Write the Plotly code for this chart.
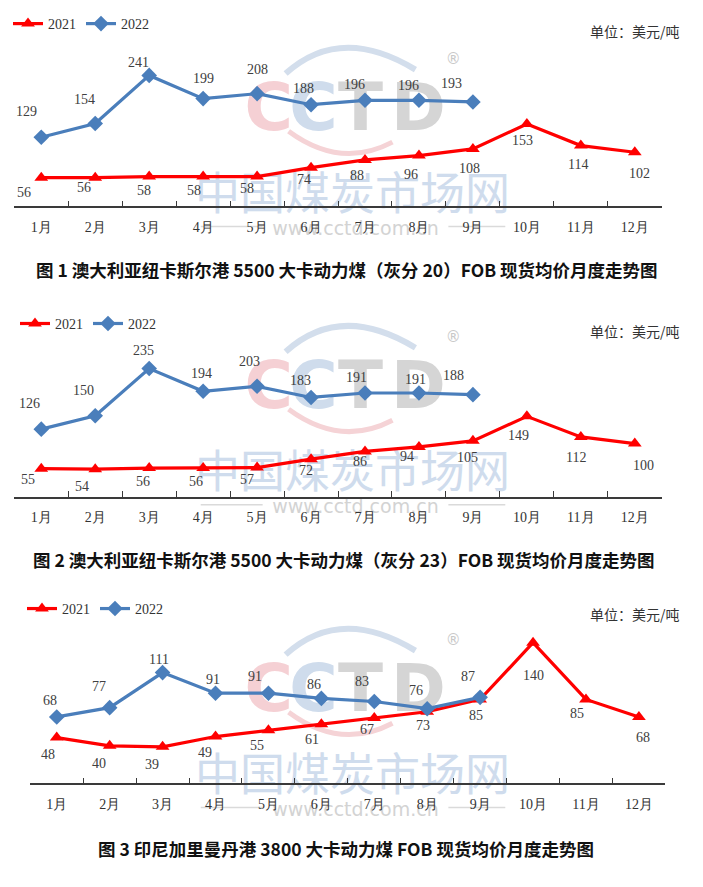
import plotly.graph_objects as go

W, H = 703, 887
# the page body adds an 8px margin around the figure; compensate for it
OX, OY = 8, 8

months = ["1月", "2月", "3月", "4月", "5月", "6月", "7月", "8月", "9月", "10月", "11月", "12月"]
months_2022 = months[:9]

c1_2021 = [56, 56, 58, 58, 58, 74, 88, 96, 108, 153, 114, 102]
c1_2022 = [129, 154, 241, 199, 208, 188, 196, 196, 193]
c2_2021 = [55, 54, 56, 56, 57, 72, 86, 94, 105, 149, 112, 100]
c2_2022 = [126, 150, 235, 194, 203, 183, 191, 191, 188]
c3_2021 = [48, 40, 39, 49, 55, 61, 67, 73, 85, 140, 85, 68]
c3_2022 = [68, 77, 111, 91, 91, 86, 83, 76, 87]

titles = [
    "图 1 澳大利亚纽卡斯尔港 5500 大卡动力煤（灰分 20）FOB 现货均价月度走势图",
    "图 2 澳大利亚纽卡斯尔港 5500 大卡动力煤（灰分 23）FOB 现货均价月度走势图",
    "图 3 印尼加里曼丹港 3800 大卡动力煤 FOB 现货均价月度走势图",
]
unit_text = "单位：美元/吨"

# label offsets (px) for data labels: (dx, dy up)
off1_2021 = [(-17, -15), (-11, -10), (-5, -14), (-9, -14), (-10, -12), (-7, -12), (-8, -16), (-8, -19), (-3, -20), (-4, -16), (-3, -19), (5, -21)]
off1_2022 = [(-15, 26), (-11, 24), (-11, 13), (0, 20), (0, 24), (-8, 16), (-11, 16), (-10, 15), (-21, 18)]
off2_2021 = [(-13, -11), (-13, -17), (-6, -13), (-7, -13), (-10, -12), (-5, -11), (-5, -10), (-12, -10), (-5, -17), (-8, -19), (-5, -21), (9, -22)]
off2_2022 = [(-12, 26), (-12, 25), (-6, 18), (-2, 18), (-8, 25), (-11, 17), (-9, 15), (-3, 13), (-19, 19)]
off3_2021 = [(-9, -17), (-11, -18), (-11, -18), (-11, -16), (-11, -15), (-9, -15), (-7, -12), (-4, -14), (-4, -16), (0, -33), (-9, -14), (4, -21)]
off3_2022 = [(-7, 16), (-11, 21), (-4, 13), (-3, 14), (-13, 17), (-7, 14), (-12, 20), (-11, 18), (-12, 21)]

RED = "#ff0000"
BLUE = "#4a7ebb"
SERIF = "Liberation Serif, Times New Roman, serif"
CJK = "Noto Sans CJK SC"


def pxx(x):
    return (x - OX) / W


def pyy(y):
    return 1 - (y - OY) / H


panels = [
    dict(xl=13.3, xr=661.7, yb=201.7, yt=37.0, ymin=4.0, ymax=300, legx=13, legy=18, unity=25, titlex=346, titley=265, wm=0),
    dict(xl=13.3, xr=661.7, yb=494.0, yt=328.5, ymin=4.6, ymax=300, legx=20, legy=320, unity=327, titlex=343, titley=557, wm=280),
    dict(xl=29.3, xr=665.3, yb=782.7, yt=620.2, ymin=3.5, ymax=160, legx=27, legy=607, unity=612, titlex=345, titley=848, wm=585),
]
series = [
    (c1_2021, c1_2022, off1_2021, off1_2022),
    (c2_2021, c2_2022, off2_2021, off2_2022),
    (c3_2021, c3_2022, off3_2021, off3_2022),
]

fig = go.Figure()
annotations = []
shapes = []

for i, (p, (s21, s22, o21, o22)) in enumerate(zip(panels, series)):
    n = "" if i == 0 else str(i + 1)
    xa, ya = "x" + n, "y" + n
    leg = "legend" + n
    fig.add_trace(go.Scatter(
        x=months, y=s21, name="2021", mode="lines+markers",
        line=dict(color=RED, width=3.2),
        marker=dict(symbol="triangle-up", size=12, color=RED),
        xaxis=xa, yaxis=ya, legend=leg, hoverinfo="skip"))
    fig.add_trace(go.Scatter(
        x=months_2022, y=s22, name="2022", mode="lines+markers",
        line=dict(color=BLUE, width=3.2),
        marker=dict(symbol="diamond", size=12, color=BLUE),
        xaxis=xa, yaxis=ya, legend=leg, hoverinfo="skip"))

    xkey = "xaxis" + n
    ykey = "yaxis" + n
    fig.update_layout({
        xkey: dict(
            domain=[pxx(p["xl"]), pxx(p["xr"])], anchor=ya,
            type="category", range=[-0.5, 11.5],
            showline=True, linecolor="#3a3a3a", linewidth=1.6,
            ticks="inside", ticklen=6, tickwidth=1.4, tickcolor="#3a3a3a",
            tickson="boundaries", showgrid=False, zeroline=False,
            tickfont=dict(family=SERIF, size=14, color="#333333"),
            ticklabelstandoff=7, fixedrange=True),
        ykey: dict(
            domain=[pyy(p["yb"]), pyy(p["yt"])], anchor=xa,
            range=[p["ymin"], p["ymax"]], visible=False,
            showgrid=False, zeroline=False, fixedrange=True),
        leg: dict(
            x=pxx(p["legx"] - 6), y=pyy(p["legy"]), xanchor="left", yanchor="middle",
            orientation="h", bgcolor="rgba(0,0,0,0)",
            font=dict(family=SERIF, size=14, color="#333333"),
            itemwidth=30, tracegroupgap=0, traceorder="normal"),
    })

    for m, v, (dx, dy) in zip(months, s21, o21):
        annotations.append(dict(x=m, y=v, xref=xa, yref=ya, text=str(v), showarrow=False,
                                xshift=dx, yshift=dy,
                                font=dict(family=SERIF, size=14, color="#404040")))
    for m, v, (dx, dy) in zip(months_2022, s22, o22):
        annotations.append(dict(x=m, y=v, xref=xa, yref=ya, text=str(v), showarrow=False,
                                xshift=dx, yshift=dy,
                                font=dict(family=SERIF, size=14, color="#404040")))

    annotations.append(dict(x=pxx(682), y=pyy(p["unity"]), xref="paper", yref="paper",
                            xanchor="right", yanchor="middle", showarrow=False, text=unit_text,
                            font=dict(family=CJK, size=14, color="#333333")))
    annotations.append(dict(x=pxx(p["titlex"]), y=pyy(p["titley"]), xref="paper", yref="paper",
                            xanchor="center", yanchor="middle", showarrow=False,
                            text="<b>" + titles[i] + "</b>",
                            font=dict(family=CJK, size=17.5, color="#111111")))

    d = p["wm"]

    def rect_label(cx, cy, w, h, text, size, color, family, bold=False):
        shapes.append(dict(
            type="rect", xref="paper", yref="paper", layer="below",
            x0=pxx(cx - w / 2), x1=pxx(cx + w / 2), y0=pyy(cy + h / 2), y1=pyy(cy - h / 2),
            line=dict(width=0), fillcolor="rgba(0,0,0,0)",
            label=dict(text=("<b>" + text + "</b>") if bold else text,
                       textposition="middle center",
                       font=dict(family=family, size=size, color=color))))

    def arc(p0, peak, p2, color, width):
        cx = 2 * peak[0] - 0.5 * (p0[0] + p2[0])
        cy = 2 * peak[1] - 0.5 * (p0[1] + p2[1])
        path = "M {} {} Q {} {} {} {}".format(
            pxx(p0[0]), pyy(p0[1] + d), pxx(cx), pyy(cy + d), pxx(p2[0]), pyy(p2[1] + d))
        shapes.append(dict(type="path", xref="paper", yref="paper", layer="below",
                           path=path, line=dict(color=color, width=width)))

    arc((285, 68), (345, 42), (415, 64), "#d3deec", 6)
    arc((288, 126), (340, 148), (392, 137), "#f5d3d6", 5)
    rect_label(268, 97 + d, 50, 50, "C", 66, "#f5d0d4", "DejaVu Sans", True)
    rect_label(313, 97 + d, 50, 50, "C", 66, "#cfdcec", "DejaVu Sans", True)
    rect_label(360, 97 + d, 50, 50, "T", 66, "#d5d5d5", "DejaVu Sans", True)
    rect_label(418, 97 + d, 60, 50, "D", 66, "#d5d5d5", "DejaVu Sans", True)
    rect_label(453, 52 + d, 16, 16, "®", 15, "#c8c8c8", "DejaVu Sans")
    rect_label(352, 193 + d, 330, 46, "中国煤炭市场网", 45, "#cfdced", CJK)
    rect_label(355, 222 + d, 180, 20, "www.cctd.com.cn", 19, "#d3d3d3", "DejaVu Sans")
    shapes.append(dict(type="line", xref="paper", yref="paper", layer="below",
                       x0=pxx(200), x1=pxx(262), y0=pyy(222 + d), y1=pyy(222 + d),
                       line=dict(color="#dadada", width=1.5)))
    shapes.append(dict(type="line", xref="paper", yref="paper", layer="below",
                       x0=pxx(448), x1=pxx(505), y0=pyy(222 + d), y1=pyy(222 + d),
                       line=dict(color="#dadada", width=1.5)))

fig.update_layout(
    width=W, height=H, margin=dict(l=0, r=0, t=0, b=0),
    paper_bgcolor="white", plot_bgcolor="rgba(0,0,0,0)",
    annotations=annotations, shapes=shapes, showlegend=True,
)

fig.write_html("out.html")
